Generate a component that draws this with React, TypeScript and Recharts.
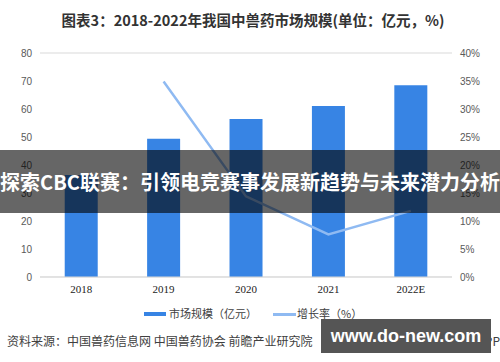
import React from "react";
import {
  ComposedChart,
  Bar,
  Line,
  XAxis,
  YAxis,
  CartesianGrid,
} from "recharts";

const years = ["2018", "2019", "2020", "2021", "2022E"];
const marketSize = [36.4, 49.4, 56.4, 61.1, 68.5];
const growthRate: (number | null)[] = [null, 34.9, 14.4, 7.6, 11.8];
const leftTicks = [0, 10, 20, 30, 40, 50, 60, 70, 80];
const rightTicks = [0, 5, 10, 15, 20, 25, 30, 35, 40];

const BAR_COLOR = "#3784e4";
const LINE_COLOR = "#8fbaf2";
const SANS = "'Noto Sans CJK SC', 'Noto Sans', sans-serif";

export default function App() {
  const data = years.map((y, i) => ({
    year: y,
    size: marketSize[i],
    rate: growthRate[i],
  }));

  return (
    <div
      style={{
        position: "fixed",
        left: 0,
        top: 0,
        width: 500,
        height: 362,
        background: "#fff",
        overflow: "hidden",
        fontFamily: SANS,
      }}
    >
      <div
        style={{
          position: "absolute",
          top: 9,
          left: 0,
          width: 506,
          textAlign: "center",
          fontSize: 14.5,
          fontWeight: 700,
          color: "#333",
        }}
      >
        图表3：2018-2022年我国中兽药市场规模(单位：亿元，%)
      </div>

      <ComposedChart
        width={500}
        height={362}
        data={data}
        margin={{ top: 53, right: 0, bottom: 65, left: 0 }}
        barCategoryGap="30%"
      >
        <CartesianGrid vertical={false} stroke="#d9d9d9" />
        <XAxis
          dataKey="year"
          height={20}
          tickLine={false}
          axisLine={{ stroke: "#d9d9d9" }}
          tick={{ fontSize: 11, fill: "#222", fontFamily: "'Liberation Serif', serif" }}
        />
        <YAxis
          yAxisId="left"
          width={40}
          domain={[0, 80]}
          ticks={leftTicks}
          tickLine={false}
          axisLine={false}
          tick={{ fontSize: 10, fill: "#595959", fontFamily: "'Liberation Sans', sans-serif" }}
        />
        <YAxis
          yAxisId="right"
          orientation="right"
          width={48}
          domain={[0, 40]}
          ticks={rightTicks}
          tickLine={false}
          axisLine={false}
          tickFormatter={(v) => `${v}%`}
          tick={{ fontSize: 10, fill: "#595959", fontFamily: "'Liberation Sans', sans-serif" }}
        />
        <Bar
          yAxisId="left"
          dataKey="size"
          fill={BAR_COLOR}
          isAnimationActive={false}
        />
        <Line
          yAxisId="right"
          dataKey="rate"
          stroke={LINE_COLOR}
          strokeWidth={2.5}
          dot={false}
          activeDot={false}
          isAnimationActive={false}
        />
      </ComposedChart>

      {/* legend */}
      <div style={{ position: "absolute", left: 144, top: 312, width: 22, height: 4, background: BAR_COLOR }} />
      <div style={{ position: "absolute", left: 169, top: 305, fontSize: 11, color: "#404040", whiteSpace: "nowrap" }}>
        市场规模（亿元）
      </div>
      <div style={{ position: "absolute", left: 273, top: 313, width: 23, height: 2.5, background: LINE_COLOR }} />
      <div style={{ position: "absolute", left: 297, top: 305, fontSize: 11, color: "#404040", whiteSpace: "nowrap" }}>
        增长率（%）
      </div>

      {/* source */}
      <div style={{ position: "absolute", left: 7, top: 332, fontSize: 12, color: "#404040", whiteSpace: "nowrap" }}>
        资料来源：中国兽药信息网 中国兽药协会 前瞻产业研究院
      </div>
      <div style={{ position: "absolute", right: 0, top: 332, fontSize: 12, color: "#404040", whiteSpace: "nowrap" }}>
        @前瞻经济学人APP
      </div>

      {/* overlay banner */}
      <div
        style={{
          position: "absolute",
          left: 0,
          top: 150,
          width: 500,
          height: 63,
          background: "rgba(0,0,0,0.6)",
          display: "flex",
          alignItems: "center",
          justifyContent: "center",
          color: "#fff",
          fontWeight: 700,
          fontSize: 20,
          whiteSpace: "nowrap",
        }}
      >
        探索CBC联赛：引领电竞赛事发展新趋势与未来潜力分析
      </div>

      {/* site badge */}
      <div
        style={{
          position: "absolute",
          left: 321,
          top: 319,
          width: 170,
          height: 34,
          background: "#555",
          display: "flex",
          alignItems: "center",
          justifyContent: "center",
          color: "#fff",
          fontWeight: 700,
          fontSize: 18,
          fontFamily: "'Liberation Sans', Arial, sans-serif",
          whiteSpace: "nowrap",
        }}
      >
        www.do-new.com
      </div>
    </div>
  );
}
